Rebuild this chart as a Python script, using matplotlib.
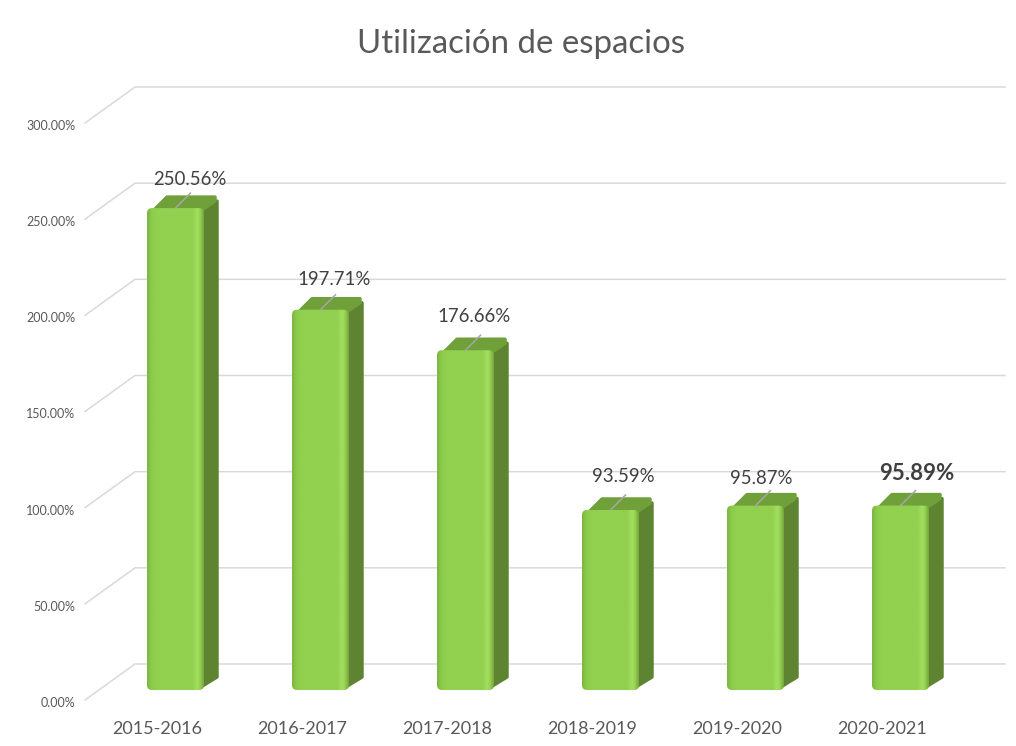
import numpy as np
import matplotlib
matplotlib.use('Agg')
import matplotlib.pyplot as plt
from matplotlib.colors import LinearSegmentedColormap
from matplotlib.patches import FancyBboxPatch, Polygon
from matplotlib.transforms import ScaledTranslation

plt.rcParams['font.family'] = ['Lato', 'DejaVu Sans']

years = ['2015-2016', '2016-2017', '2017-2018', '2018-2019', '2019-2020', '2020-2021']
values = [250.56, 197.71, 176.66, 93.59, 95.87, 95.89]
labels = ['250.56%', '197.71%', '176.66%', '93.59%', '95.87%', '95.89%']
y_ticks = [0, 50, 100, 150, 200, 250, 300]
y_labels = ['0.00%', '50.00%', '100.00%', '150.00%', '200.00%', '250.00%', '300.00%']

# label offsets from the bar's front top centre, in pixels
label_dx = [14.5, 13.5, 8.5, 13, 6, 16]
label_dy = [29, 30, 34, 33, 27, 32]

W, H = 1016, 746
px_x = 145.0      # pixels per category
px_y = 1.923      # pixels per percent

fig = plt.figure(figsize=(W / 100, H / 100), dpi=100)
ax = fig.add_axes([85 / W, 1 - 700 / H, 870 / W, 577 / H])
for s in ax.spines.values():
    s.set_visible(False)

grid_col = '#d9d9d9'
wall_dx = 50 / px_x
wall_dy = 36 / px_y
for v in y_ticks:
    ax.plot([-0.5, -0.5 + wall_dx, 5.5 + wall_dx], [v, v + wall_dy, v + wall_dy],
            color=grid_col, lw=1.1, clip_on=False, zorder=1)

bar_w = 57 / px_x
shift = 18 / px_x
lift = 10 / px_y
dep_x = 15 / px_x
dep_y = 13 / px_y
round_x = 5 / px_x
round_y = 5 / px_y
edge_x = 2 / px_x
edge_y = 2 / px_y

cmap = LinearSegmentedColormap.from_list('bar', [
    (0.0, '#7cb540'), (0.07, '#8acb4a'), (0.16, '#92d050'), (0.80, '#92d050'),
    (0.89, '#a4e05f'), (0.94, '#94cf52'), (1.0, '#76a83c')])
grad = np.linspace(0, 1, 120).reshape(1, -1)

for i, v in enumerate(values):
    x0 = i + shift - bar_w / 2
    x1 = x0 + bar_w
    y0 = lift
    y1 = lift + v
    # right side and top faces, thick round edges give the soft corners
    side = Polygon([(x1 - round_x, y0 + edge_y), (x1 + dep_x - edge_x, y0 + dep_y),
                    (x1 + dep_x - edge_x, y1 + dep_y - 3 * edge_y), (x1 - round_x, y1 - 2 * edge_y)],
                   closed=True, fc='#5e8432', ec='#5e8432', lw=2.5,
                   joinstyle='round', zorder=3, clip_on=False)
    ax.add_patch(side)
    top = Polygon([(x0 + round_x, y1 - 2 * edge_y), (x0 + dep_x + round_x, y1 + dep_y - edge_y),
                   (x1 + dep_x - 2 * edge_x, y1 + dep_y - edge_y),
                   (x1 + dep_x - 2 * edge_x, y1 + dep_y - 3 * edge_y),
                   (x1 - round_x, y1 - 2 * edge_y)], closed=True, fc='#6fa03a', ec='#6fa03a', lw=2.5,
                  joinstyle='round', zorder=3, clip_on=False)
    ax.add_patch(top)
    # front face, gradient clipped to a rounded box
    box = FancyBboxPatch((x0 + round_x, y0 + round_y), bar_w - 2 * round_x, v - 2 * round_y,
                         boxstyle=f'round,pad={round_x},rounding_size={round_x}',
                         mutation_aspect=px_x / px_y, fc='none', ec='none', zorder=4)
    ax.add_patch(box)
    im = ax.imshow(grad, extent=[x0, x1, y0, y1], cmap=cmap, vmin=0, vmax=1,
                   aspect='auto', zorder=4, interpolation='bilinear')
    im.set_clip_path(box)
    # leader line and value label
    cx = i + shift
    ax.plot([cx, cx + 15 / px_x], [y1, y1 + 15 / px_y], color='#a6a6a6', lw=1.1, zorder=5,
            clip_on=False)
    bold = i == 5
    ax.text(cx + label_dx[i] / px_x, y1 + label_dy[i] / px_y, labels[i], ha='center', va='center',
            fontsize=13.4 if not bold else 16, color='#404040',
            fontweight='bold' if bold else 'normal', zorder=6, clip_on=False)

ax.set_xlim(-0.5, 5.5)
ax.set_ylim(0, 300)
ax.set_xticks(range(len(years)))
ax.set_xticklabels(years, fontsize=13, color='#595959')
ax.set_yticks(y_ticks)
ax.set_yticklabels(y_labels, fontsize=9, color='#595959')
ax.tick_params(axis='both', length=0)
ax.tick_params(axis='x', pad=15)
ax.tick_params(axis='y', pad=7)
nudge = ScaledTranslation(0, -2 / 100, fig.dpi_scale_trans)
for t in ax.get_yticklabels():
    t.set_transform(t.get_transform() + nudge)

fig.text(521 / W, 1 - 44 / H, 'Utilización de espacios', ha='center', va='center',
         fontsize=23.8, color='#595959')

fig.savefig('out.png', dpi=100)
